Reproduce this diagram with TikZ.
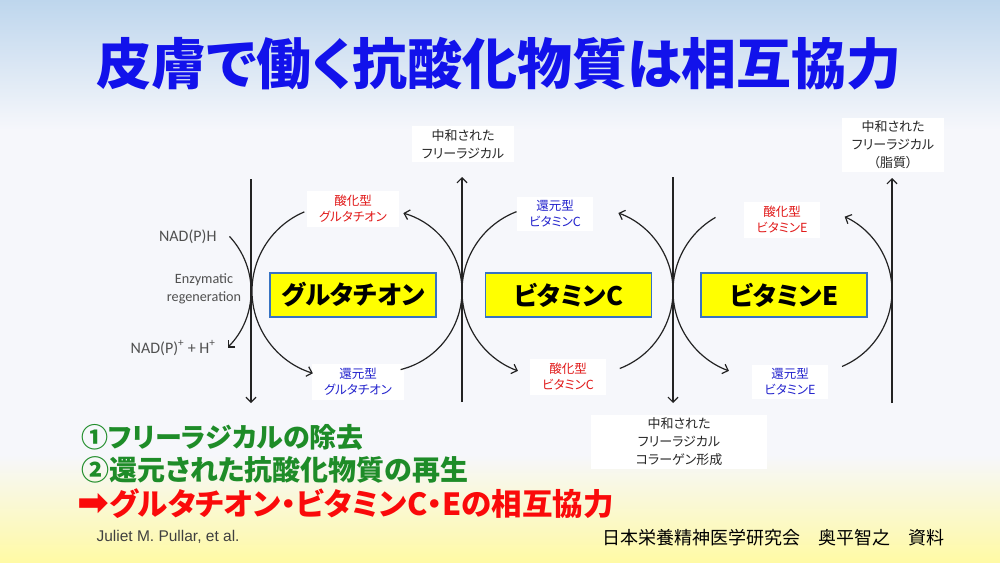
\documentclass[tikz,border=0pt]{standalone}
\usepackage{fontspec}
\setmainfont{Noto Sans CJK JP}[RawFeature=+palt]
\newfontfamily\latfont{Carlito}
\newfontfamily\arialfont{Liberation Sans}
\newfontfamily\symfont{DejaVu Sans}
\usetikzlibrary{arrows.meta,calc}
\definecolor{ttlblue}{RGB}{18,18,235}
\definecolor{oxred}{RGB}{225,25,25}
\definecolor{rdblue}{RGB}{35,35,205}
\definecolor{boxyellow}{RGB}{255,255,0}
\definecolor{boxedge}{RGB}{55,115,195}
\definecolor{ptgreen}{RGB}{30,140,40}
\definecolor{ptred}{RGB}{250,10,10}
\definecolor{linegray}{RGB}{35,35,35}
\definecolor{txtgray}{RGB}{80,80,80}
\definecolor{skyblue}{RGB}{190,214,237}
\definecolor{paper}{RGB}{246,247,251}
\definecolor{cream}{RGB}{255,250,165}
\tikzset{
	cyc/.style={draw=linegray, line width=1.2pt, -{Straight Barb[length=5pt,width=10pt]}},
	tag/.style={fill=white, align=center, inner xsep=12pt, inner ysep=4pt, font=\fontsize{12.5}{16}\selectfont},
	bigtag/.style={tag, inner xsep=10pt, inner ysep=3pt, font=\fontsize{13}{18}\selectfont, text=black!85},
	vitbox/.style={draw=boxedge, line width=1.2pt, fill=boxyellow, minimum width=166pt, minimum height=44pt, font=\fontsize{25.5}{26}\selectfont\bfseries},
	gaptxt/.style={text=txtgray, font=\latfont\fontsize{16}{18}\selectfont}
}
\begin{document}
\begin{tikzpicture}[x=1pt,y=1pt]
			\useasboundingbox (0,0) rectangle (1000,-562);
			% background
			\shade[top color=skyblue, bottom color=paper] (0,0) rectangle (1000,-130);
			\fill[paper] (0,-130) rectangle (1000,-455);
			\shade[top color=paper, bottom color=cream] (0,-455) rectangle (1000,-562);
			% title
			\node[text=ttlblue, font=\fontsize{55}{55}\selectfont\bfseries] (title) at (499,-64) {皮膚で働く抗酸化物質は相互協力};
			% yellow boxes
			\node[vitbox] (gsh) at (353,-295) {グルタチオン};
			\node[vitbox] (vitc) at (568.5,-295) {ビタミンC};
			\node[vitbox] (vite) at (784,-295) {ビタミンE};
			% small labels
			\node[tag, text=oxred] (gshox) at (353,-209) {酸化型\\グルタチオン};
			\node[tag, text=rdblue] (gshred) at (358,-382) {還元型\\グルタチオン};
			\node[tag, text=rdblue] (vitcred) at (555,-214) {還元型\\ビタミンC};
			\node[tag, text=oxred] (vitcox) at (568,-377) {酸化型\\ビタミンC};
			\node[tag, text=oxred] (viteox) at (782,-220) {酸化型\\ビタミンE};
			\node[tag, text=rdblue] (vitered) at (790,-382) {還元型\\ビタミンE};
			\node[bigtag] (radtop) at (463,-144) {中和された\\フリーラジカル};
			\node[bigtag] (radlip) at (893,-145) {中和された\\フリーラジカル\\（脂質）};
			\node[bigtag, inner xsep=45pt] (radcol) at (679,-442) {中和された\\フリーラジカル\\コラーゲン形成};
			\node[gaptxt, anchor=east] (nadh) at (220,-237) {NAD(P)H};
			\node[gaptxt, align=center, font=\latfont\fontsize{14.2}{18}\selectfont] (enz) at (204,-289) {Enzymatic\\regeneration};
			\node[gaptxt, anchor=east] (nadp) at (219,-348) {NAD(P)\textsuperscript{+} + H\textsuperscript{+}};
			% radical lines
			\coordinate (l1t) at (251,-179);
			\coordinate (l1b) at (251,-403);
			\coordinate (l2t) at (462,-177);
			\coordinate (l2b) at (462,-402);
			\coordinate (l3t) at (673,-177);
			\coordinate (l3b) at (673,-403);
			\coordinate (l4t) at (892,-178);
			\coordinate (l4b) at (892,-403);
			\draw[cyc] (l1t) -- (l1b);
			\draw[cyc] (l2b) -- (l2t);
			\draw[cyc] (l3t) -- (l3b);
			\draw[cyc] (l4b) -- (l4t);
			% cycle arcs
			\coordinate (cnad) at (171,-291);
			\coordinate (cgl) at (338,-291);
			\coordinate (cgr) at (381,-291);
			\coordinate (ccl) at (547,-291);
			\coordinate (ccr) at (590,-291);
			\coordinate (cel) at (758,-291);
			\coordinate (cer) at (810,-291);
			\draw[cyc] ($(cnad)+(43:80)$) arc[start angle=43, end angle=-45, radius=80];
			\draw[cyc] ($(cgl)+(113:86)$) arc[start angle=113, end angle=253, radius=86];
			\draw[cyc] ($(cgr)+(-76:81)$) arc[start angle=-76, end angle=74, radius=81];
			\draw[cyc] ($(ccl)+(111:85)$) arc[start angle=111, end angle=250, radius=85];
			\draw[cyc] ($(ccr)+(-69:83)$) arc[start angle=-69, end angle=70, radius=83];
			\draw[cyc] ($(cel)+(120:85)$) arc[start angle=120, end angle=250, radius=85];
			\draw[cyc] ($(cer)+(-67:82)$) arc[start angle=-67, end angle=65, radius=82];
			% points
			\node[anchor=west, text=ptgreen, font=\fontsize{27}{27}\selectfont\bfseries] (pt1) at (78,-437) {①フリーラジカルの除去};
			\node[anchor=west, text=ptgreen, font=\fontsize{28}{28}\selectfont\bfseries] (pt2) at (78,-470) {②還元された抗酸化物質の再生};
			\node[anchor=west, text=ptred, font=\fontsize{30.5}{30}\selectfont\bfseries] (pt3) at (74,-504) {{\symfont\fontsize{38}{30}\selectfont ➡}グルタチオン・ビタミンC・Eの相互協力};
			\node[anchor=west, text=black!75, font=\arialfont\fontsize{15.5}{16}\selectfont] (cite) at (93,-537) {Juliet M. Pullar, et al.};
			\node[anchor=east, font=\fontsize{18}{18}\selectfont] (credit) at (948,-538) {日本栄養精神医学研究会　奥平智之　資料};
		\end{tikzpicture}
\end{document}
